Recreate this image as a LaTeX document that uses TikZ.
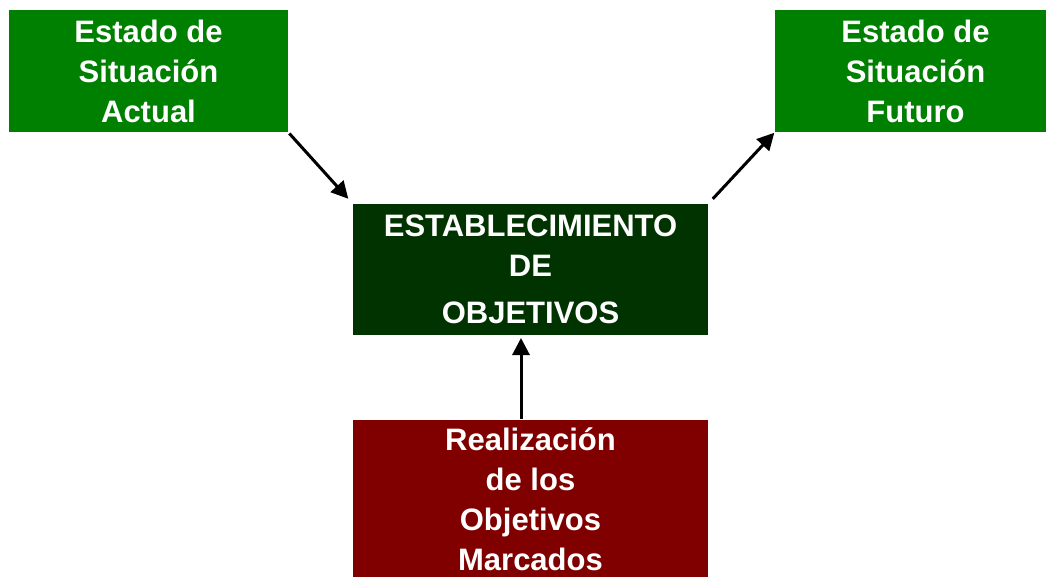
\documentclass[tikz,border=0pt]{standalone}
\usepackage{fontspec}
\setmainfont{Liberation Sans}
\usetikzlibrary{arrows.meta}
\definecolor{boxgreen}{HTML}{008000}
\definecolor{boxdark}{HTML}{003300}
\definecolor{boxred}{HTML}{800000}
\tikzset{
  box/.style={inner sep=0pt, outer sep=0pt, text=white, align=center,
    font=\fontsize{31}{40}\selectfont\bfseries},
  arr/.style={line width=3pt, -{Triangle[length=17pt,width=17pt]}}
}
\begin{document}
\begin{tikzpicture}[x=1pt,y=-1pt]
\useasboundingbox (0,0) rectangle (1046,577);
\clip (0,0) rectangle (1046,577);
\node[box, fill=boxgreen, minimum width=279pt, minimum height=122pt] (a) at (148.5,71) {Estado de\\Situación\\Actual};
\node[box, fill=boxgreen, minimum width=281pt, minimum height=122pt] (b) at (915.5,71) {Estado de\\Situación\\Futuro};
\node[box, fill=boxdark, minimum width=355pt, minimum height=131pt] (c) at (530.5,269.5) {ESTABLECIMIENTO\\DE\\[7pt]OBJETIVOS};
\node[box, fill=boxred, minimum width=355pt, minimum height=158pt] (d) at (530.5,499) {Realización\\de los\\Objetivos\\Marcados};
\draw[arr, shorten <=2pt, shorten >=7pt] (a.south east) -- (c.north west);
\draw[arr, shorten <=7pt, shorten >=1pt] (c.north east) -- (b.south west);
\draw[arr, shorten <=1pt, shorten >=3pt] ([xshift=-9.5pt]d.north) -- ([xshift=-9.5pt]c.south);
\end{tikzpicture}
\end{document}
